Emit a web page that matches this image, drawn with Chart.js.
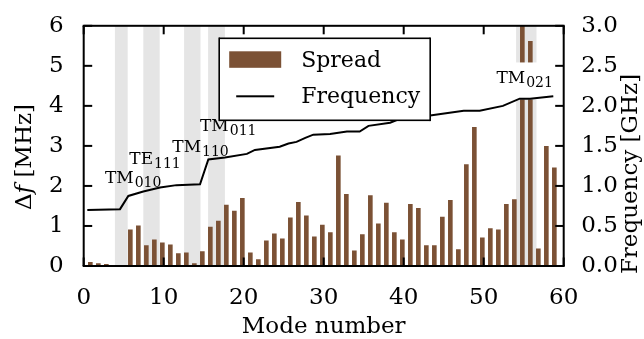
<!DOCTYPE html>
<html>
<head>
<meta charset="utf-8">
<script src="https://cdn.jsdelivr.net/npm/chart.js@4"></script>
<style>
  html, body { margin: 0; padding: 0; background: #fff; }
  #wrap { width: 644px; height: 339px; }
</style>
</head>
<body>
<div id="wrap"><canvas id="c"></canvas></div>
<script>
// mode numbers that have a spread bar, and the spread per mode (MHz)
const modes  = [1, 2, 3, 6, 7, 8, 9, 10, 11, 12, 13, 14, 15, 16, 17, 18, 19, 20,
                21, 22, 23, 24, 25, 26, 27, 28, 29, 30, 31, 32, 33, 34, 35, 36, 37, 38, 39, 40,
                41, 42, 43, 44, 45, 46, 47, 48, 49, 50, 51, 52, 53, 54, 55, 56, 57, 58, 59];
const spread = [0.10, 0.07, 0.05, 0.91, 1.01, 0.52, 0.66, 0.59, 0.54, 0.32, 0.34, 0.07, 0.37, 0.98, 1.13, 1.53, 1.38, 1.70,
                0.34, 0.17, 0.64, 0.81, 0.69, 1.21, 1.60, 1.26, 0.74, 1.03, 0.84, 2.76, 1.80, 0.39, 0.79, 1.77, 1.06, 1.58, 0.84, 0.66,
                1.55, 1.45, 0.52, 0.52, 1.23, 1.65, 0.42, 2.54, 3.47, 0.71, 0.94, 0.91, 1.55, 1.67, 6.50, 5.62, 0.44, 3.00, 2.46];
const BAR_SHIFT = -0.17;

// frequency curve (GHz) vertices
const freqMode = [0.45, 4.54, 5.58, 7.45, 9.54, 11.6, 14.54, 15.58, 17.66, 20.4, 21.4, 24.5, 25.6, 26.6, 27.7, 28.7,
                  30.8, 32.9, 34.5, 35.6, 38.3, 39.6, 41.5, 43.3, 47.5, 49.5, 52.4, 54.5, 55.8, 58.7];
const freqGHz  = [0.70, 0.71, 0.875, 0.93, 0.98, 1.01, 1.02, 1.33, 1.355, 1.40, 1.45, 1.49, 1.53, 1.55, 1.60, 1.64,
                  1.65, 1.68, 1.68, 1.75, 1.79, 1.84, 1.86, 1.88, 1.94, 1.94, 2.00, 2.09, 2.09, 2.12];

// grey bands
const bands = [[3.9, 5.5], [7.45, 9.5], [12.55, 14.6], [15.55, 17.65], [54.05, 56.6]];

// mode labels: [main, subscript, x (mode), y (MHz, baseline)]
const modeLabels = [
  ['TM', '010', 2.66, 2.08],
  ['TE', '111', 5.7, 2.54],
  ['TM', '110', 11.08, 2.86],
  ['TM', '011', 14.54, 3.37],
  ['TM', '021', 51.6, 4.56]
];

const xTicks = [0, 10, 20, 30, 40, 50, 60];
const leftTicks = [0, 1, 2, 3, 4, 5, 6];
const rightTicks = [0, 0.5, 1.0, 1.5, 2.0, 2.5, 3.0];

const BROWN = '#7b5135';
const FONT = 'DejaVu Serif';
Chart.defaults.font.family = FONT;
Chart.defaults.font.size = 23;
Chart.defaults.color = '#000';

function hline(ctx, x1, x2, y, w) { ctx.fillRect(Math.min(x1, x2), y - w / 2, Math.abs(x2 - x1), w); }
function vline(ctx, x, y1, y2, w) { ctx.fillRect(x - w / 2, Math.min(y1, y2), w, Math.abs(y2 - y1)); }

// draws runs of differently styled text
function runs(ctx, parts, x, y, align) {
  let w = 0;
  parts.forEach(p => { ctx.font = p.font; w += ctx.measureText(p.t).width; });
  let cx = align === 'center' ? x - w / 2 : x;
  parts.forEach(p => { ctx.font = p.font; ctx.fillText(p.t, cx, y + (p.dy || 0)); cx += ctx.measureText(p.t).width; });
}

const decor = {
  id: 'decor',
  beforeDatasetsDraw(chart) {
    const { ctx, chartArea: a, scales: { x } } = chart;
    ctx.save();
    ctx.fillStyle = '#e5e5e5';
    bands.forEach(b => {
      const x1 = x.getPixelForValue(b[0]), x2 = x.getPixelForValue(b[1]);
      ctx.fillRect(x1, a.top, x2 - x1, a.bottom - a.top);
    });
    ctx.restore();
  },
  afterDatasetDraw(chart, args) {
    if (args.index !== 0) return;
    // white box behind the TM021 label
    const { ctx, scales: { x, yL } } = chart;
    const l = modeLabels[4];
    const px = x.getPixelForValue(l[2]), py = yL.getPixelForValue(l[3]);
    ctx.save();
    ctx.fillStyle = '#fff';
    ctx.fillRect(px - 7, py - 21, 74, 37);
    ctx.restore();
  },
  afterDatasetsDraw(chart) {
    const { ctx, chartArea: a, scales: { x, yL, yR } } = chart;
    ctx.save();
    ctx.fillStyle = '#000';
    ctx.textBaseline = 'alphabetic';
    ctx.textAlign = 'left';
    modeLabels.forEach(l => {
      const px = x.getPixelForValue(l[2]), py = yL.getPixelForValue(l[3]);
      runs(ctx, [{ t: l[0], font: '17px ' + FONT }, { t: ' ', font: '3px ' + FONT },
                 { t: l[1], font: '14px ' + FONT, dy: 4 }], px, py);
    });

    // legend
    const lx = a.left + 135.5, ly = a.top + 12.5, lw = 211, lh = 82;
    ctx.fillStyle = '#fff';
    ctx.fillRect(lx, ly, lw, lh);
    ctx.fillStyle = '#000';
    hline(ctx, lx, lx + lw, ly, 1.6);
    hline(ctx, lx, lx + lw, ly + lh, 1.6);
    vline(ctx, lx, ly - 0.8, ly + lh + 0.8, 1.6);
    vline(ctx, lx + lw, ly - 0.8, ly + lh + 0.8, 1.6);
    hline(ctx, lx + 17, lx + 55, ly + 58, 2);
    ctx.fillStyle = BROWN;
    ctx.fillRect(lx + 10, ly + 13, 52, 16.5);
    ctx.fillStyle = '#000';
    ctx.font = '22px ' + FONT;
    ctx.fillText('Spread', lx + 82, ly + 29);
    ctx.fillText('Frequency', lx + 82, ly + 65);

    // frame and inward ticks
    const fw = 2, tw = 2, tl = 8.5;
    const L = a.left, R = a.right, T = a.top, B = a.bottom;
    hline(ctx, L - fw / 2, R + fw / 2, T, fw);
    hline(ctx, L - fw / 2, R + fw / 2, B, fw);
    vline(ctx, L, T, B, fw);
    vline(ctx, R, T, B, fw);
    xTicks.forEach(v => {
      const px = x.getPixelForValue(v);
      vline(ctx, px, B, B - tl, tw);
      vline(ctx, px, T, T + tl, tw);
    });
    leftTicks.forEach(v => hline(ctx, L, L + tl, yL.getPixelForValue(v), tw));
    rightTicks.forEach(v => hline(ctx, R, R - tl, yR.getPixelForValue(v), tw));
    ctx.restore();
  },
  afterDraw(chart) {
    const { ctx, chartArea: a } = chart;
    ctx.save();
    ctx.fillStyle = '#000';
    ctx.textBaseline = 'alphabetic';
    ctx.textAlign = 'left';
    runs(ctx, [{ t: 'Mode number', font: '23px ' + FONT }], (a.left + a.right) / 2, 333, 'center');
    ctx.save();
    ctx.translate(31, 157);
    ctx.rotate(-Math.PI / 2);
    runs(ctx, [{ t: 'Δ', font: '23px ' + FONT }, { t: 'f', font: 'italic 23px ' + FONT },
               { t: ' [MHz]', font: '23px ' + FONT }], 0, 0, 'center');
    ctx.restore();
    ctx.save();
    ctx.translate(637, 174);
    ctx.rotate(-Math.PI / 2);
    runs(ctx, [{ t: 'Frequency [GHz]', font: '23px ' + FONT }], 0, 0, 'center');
    ctx.restore();
    ctx.restore();
  }
};

new Chart(document.getElementById('c'), {
  data: {
    datasets: [
      {
        type: 'bar', label: 'Spread', yAxisID: 'yL', order: 2,
        data: modes.map((m, i) => ({ x: m + BAR_SHIFT, y: spread[i] })),
        backgroundColor: BROWN, borderWidth: 0,
        barPercentage: 0.58, categoryPercentage: 1.0
      },
      {
        type: 'line', label: 'Frequency', yAxisID: 'yR', order: 1,
        data: freqMode.map((m, i) => ({ x: m, y: freqGHz[i] })),
        borderColor: '#000', borderWidth: 2, pointRadius: 0, tension: 0, fill: false
      }
    ]
  },
  options: {
    responsive: true, maintainAspectRatio: false, animation: false, devicePixelRatio: 1,
    layout: { padding: { top: 19.2, left: 0, right: 0, bottom: 0 } },
    plugins: { legend: { display: false }, tooltip: { enabled: false } },
    scales: {
      x: {
        type: 'linear', position: 'bottom', min: 0, max: 60, offset: false,
        grid: { display: false, offset: false }, border: { display: false },
        ticks: { padding: 10, maxRotation: 0 },
        afterBuildTicks: s => { s.ticks = xTicks.map(v => ({ value: v })); },
        afterFit: s => { s.height = 73; }
      },
      yL: {
        type: 'linear', position: 'left', min: 0, max: 6,
        grid: { display: false }, border: { display: false },
        ticks: { padding: 12 },
        afterBuildTicks: s => { s.ticks = leftTicks.map(v => ({ value: v })); },
        afterFit: s => { s.width = 83.7; }
      },
      yR: {
        type: 'linear', position: 'right', min: 0, max: 3,
        grid: { display: false }, border: { display: false },
        ticks: { padding: 9.5, callback: v => v.toFixed(1) },
        afterBuildTicks: s => { s.ticks = rightTicks.map(v => ({ value: v })); },
        afterFit: s => { s.width = 80.3; }
      }
    }
  },
  plugins: [decor]
});
</script>
</body>
</html>
